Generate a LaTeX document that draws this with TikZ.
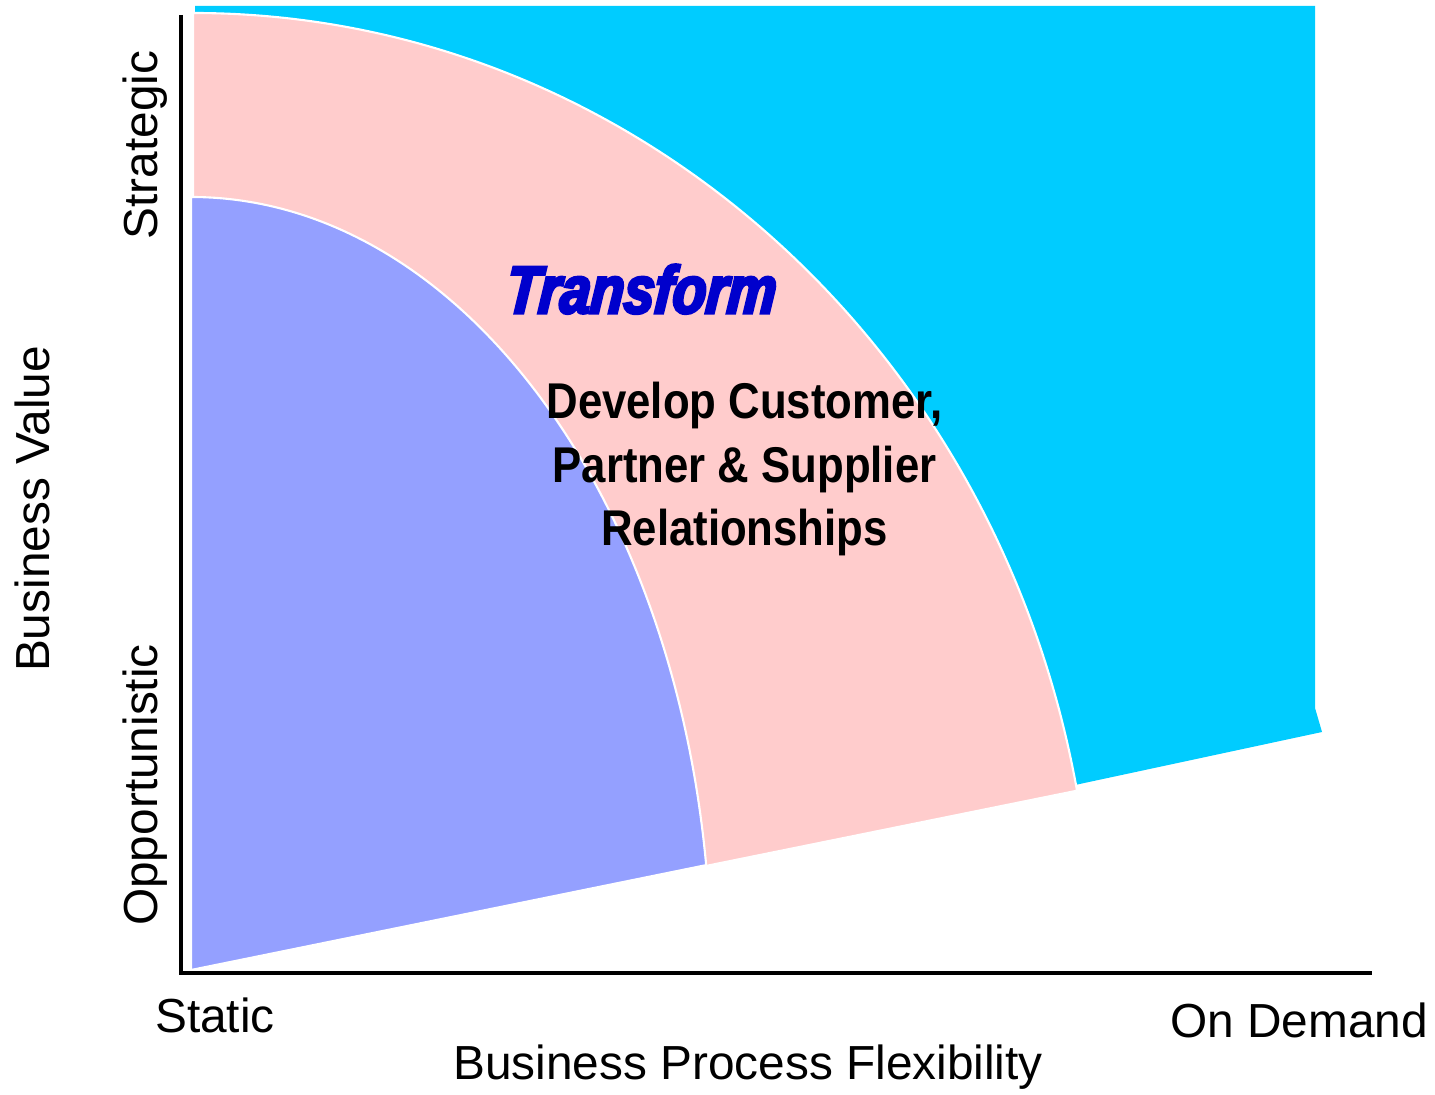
\documentclass[tikz,border=0pt]{standalone}
\usepackage{fontspec}
\setmainfont{Liberation Sans}
\newfontfamily\condbold{Liberation Sans}[FakeStretch=0.87]
\newfontfamily\xformfont{Liberation Sans}[FakeStretch=0.82,FakeBold=4.5,FakeSlant=0.08]
\definecolor{cyanzone}{HTML}{00CCFF}
\definecolor{pinkzone}{HTML}{FFCCCC}
\definecolor{bluezone}{HTML}{94A0FF}
\definecolor{xformblue}{HTML}{0000CC}
\usetikzlibrary{positioning}

\begin{document}
\begin{tikzpicture}[axislabel/.style={font=\fontsize{13.6}{16}\selectfont, inner sep=0pt}]
    \useasboundingbox (0,0) rectangle (14.35,10.94);
    \coordinate (c) at (1.93,1.24);

    \fill[cyanzone] (1.95,10.88) -- (13.15,10.88) -- (13.15,3.86) -- (13.22,3.62) -- (10.75,3.09) -- (5,5) -- (1.95,10.5) -- cycle;
    \filldraw[pinkzone, draw=white, line width=0.6pt] (c) -- (1.93,10.81) arc[start angle=90, end angle=10.8, x radius=9.0, y radius=9.57] -- cycle;
    \filldraw[bluezone, draw=white, line width=0.6pt] (1.91,1.24) -- (1.91,8.97) arc[start angle=90, end angle=7.8, x radius=5.2, y radius=7.73] -- cycle;

    \coordinate (top) at (1.81,10.79);
    \coordinate (o) at (1.81,1.21);
    \coordinate (right) at (13.72,1.21);
    \draw[line width=1pt] (top) -- (o) -- (right);

    \node[anchor=base, text=xformblue, inner sep=0pt, font=\xformfont\bfseries\itshape\fontsize{19}{22}\selectfont] (xform) at (6.40,7.81) {Transform};
    \node[anchor=base, align=center, inner sep=0pt, font=\condbold\bfseries\fontsize{14.3}{18.1}\selectfont] (goal) at (7.445,5.48) {Develop Customer,\\Partner \& Supplier\\Relationships};

    \node[axislabel, anchor=base] (static) at (2.15,0.62) {Static};
    \node[axislabel, anchor=base] (demand) at (12.99,0.57) {On Demand};
    \node[axislabel, anchor=base] (xlabel) at (7.48,0.15) {Business Process Flexibility};
    \node[axislabel, anchor=base, rotate=90] (ylabel) at (0.50,5.85) {Business Value};
    \node[axislabel, anchor=base, rotate=90] (strategic) at (1.57,9.49) {Strategic};
    \node[axislabel, anchor=base, rotate=90] (opport) at (1.57,3.09) {Opportunistic};
\end{tikzpicture}
\end{document}
